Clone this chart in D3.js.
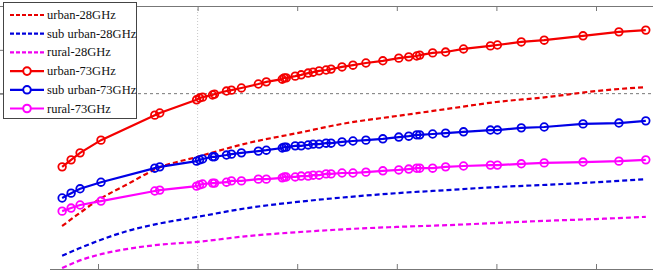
<!DOCTYPE html>
<html>
<head>
<meta charset="utf-8">
<script src="https://cdn.jsdelivr.net/npm/d3@7"></script>
<style>
  body { margin: 0; background: #fff; }
  svg { display: block; }
</style>
</head>
<body>
<svg id="chart"></svg>
<script>
// distances (m) where the 73 GHz curves are sampled (markers)
const distances73 = [64, 73, 82, 103, 157, 162, 199, 202, 205, 215, 217, 229, 234, 244, 261, 269,
  285, 287, 289, 298, 304, 311, 316, 322, 329, 334, 345, 356, 369, 386, 402, 412, 420, 423, 436,
  449, 467, 494, 501, 525, 548, 587, 623, 650];
const urban73 = [123.3, 124.9, 126.5, 129.4, 135.1, 135.6, 138.6, 139.0, 139.2, 139.7, 139.9, 140.6,
  140.8, 141.3, 142.2, 142.7, 143.3, 143.6, 143.6, 144.0, 144.3, 144.7, 144.9, 145.2, 145.4, 145.6,
  146.1, 146.5, 147.0, 147.5, 148.1, 148.4, 148.6, 148.8, 149.3, 149.5, 150.2, 150.9, 151.1, 151.8,
  152.2, 153.2, 154.1, 154.5];
const suburban73 = [116.2, 117.3, 118.3, 119.8, 123.0, 123.3, 124.6, 124.9, 125.1, 125.6, 125.6, 126.0,
  126.2, 126.5, 126.9, 127.1, 127.6, 127.8, 127.8, 128.1, 128.1, 128.3, 128.5, 128.5, 128.7, 128.7,
  129.0, 129.2, 129.4, 129.7, 130.1, 130.3, 130.6, 130.6, 130.8, 131.0, 131.3, 131.7, 131.7, 132.2,
  132.4, 133.1, 133.3, 133.8];
const rural73 = [113.2, 113.9, 114.6, 115.5, 117.8, 118.0, 118.9, 119.2, 119.4, 119.6, 119.6, 119.8,
  120.1, 120.1, 120.5, 120.5, 120.8, 121.0, 121.0, 121.0, 121.2, 121.2, 121.4, 121.4, 121.7, 121.7,
  121.9, 121.9, 122.1, 122.4, 122.6, 122.8, 123.0, 123.0, 123.0, 123.3, 123.5, 123.7, 123.7, 124.0,
  124.2, 124.4, 124.6, 124.9];

// 28 GHz curves (no markers)
const distances28 = [64, 80, 100, 130, 160, 200, 250, 300, 350, 400, 450, 500, 550, 600, 650];
const urban28 = [109.8, 112.5, 115.7, 119.4, 123.0, 125.6, 128.7, 131.0, 133.3, 134.9, 136.5, 138.1, 139.2, 140.6, 141.5];
const suburban28 = [103.0, 104.6, 106.4, 108.7, 110.3, 111.9, 113.9, 115.3, 116.4, 117.3, 118.0, 118.7, 119.2, 119.8, 120.5];
const rural28 = [100.2, 101.8, 103.2, 104.6, 105.5, 106.2, 107.5, 108.4, 109.1, 109.6, 110.0, 110.5, 111.0, 111.4, 111.9];

const seriesNames = ["urban-28GHz", "sub urban-28GHz", "rural-28GHz", "urban-73GHz", "sub urban-73GHz", "rural-73GHz"];
const seriesColors = ["#e80000", "#0000dc", "#f000f0", "#f40000", "#0000e6", "#ff00ff"];

const xTicks = [100, 200, 300, 400, 500, 600];
const yTicks = [140, 150];
// data cursor cross-hair
const cursorX = 200;
const cursorY = 140;

class PathLossChart {
  constructor(_config) {
    this.config = {
      parentElement: _config.parentElement,
      containerWidth: _config.containerWidth || 653,
      containerHeight: _config.containerHeight || 273,
    };
    this.initVis();
  }

  initVis() {
    let vis = this;

    vis.svg = d3.select(vis.config.parentElement)
      .attr("width", vis.config.containerWidth)
      .attr("height", vis.config.containerHeight);

    // axes box is cropped on the left / right of the figure
    vis.xScale = d3.scaleLinear().domain([0, 600]).range([-1.6, 596]);
    vis.yScale = d3.scaleLinear().domain([100, 160]).range([269, 6]);

    vis.chart = vis.svg.append("g");
  }

  updateVis() {
    let vis = this;

    vis.series = seriesNames.map((name, i) => {
      const is73 = i >= 3;
      const xs = is73 ? distances73 : distances28;
      const ys = [urban28, suburban28, rural28, urban73, suburban73, rural73][i];
      return {
        name: name,
        color: seriesColors[i],
        dashed: !is73,
        markers: is73,
        values: xs.map((d, j) => ({ x: d, y: ys[j] })),
      };
    });

    vis.renderVis();
  }

  renderVis() {
    let vis = this;
    const W = vis.config.containerWidth;

    // cross-hair lines
    vis.chart.append("line")
      .attr("x1", vis.xScale(cursorX)).attr("x2", vis.xScale(cursorX))
      .attr("y1", vis.yScale(160)).attr("y2", vis.yScale(100))
      .attr("stroke", "#c8c8c8").attr("stroke-width", 1)
      .attr("stroke-dasharray", "1,2");
    vis.chart.append("line")
      .attr("x1", 0).attr("x2", W)
      .attr("y1", vis.yScale(cursorY)).attr("y2", vis.yScale(cursorY))
      .attr("stroke", "#777").attr("stroke-width", 1)
      .attr("stroke-dasharray", "3,3");

    // axes (no labels survive the crop)
    const axisColor = "#777";
    const xAxisBottom = d3.axisBottom(vis.xScale).tickValues(xTicks).tickSizeInner(-5).tickSizeOuter(0).tickFormat("");
    const xAxisTop = d3.axisTop(vis.xScale).tickValues(xTicks).tickSizeInner(-5).tickSizeOuter(0).tickFormat("");
    const yAxisLeft = d3.axisLeft(vis.yScale).tickValues(yTicks).tickSizeInner(-5).tickSizeOuter(0).tickFormat("");

    [
      vis.chart.append("g").attr("transform", "translate(0,269)").call(xAxisBottom),
      vis.chart.append("g").attr("transform", "translate(0,6)").call(xAxisTop),
      vis.chart.append("g").attr("transform", "translate(-1.6,0)").call(yAxisLeft),
    ].forEach((g) => {
      g.select(".domain").remove();
      g.selectAll(".tick line").attr("stroke", axisColor);
    });

    vis.chart.append("line").attr("x1", 50).attr("x2", W).attr("y1", 269.5).attr("y2", 269.5)
      .attr("stroke", axisColor);
    vis.chart.append("line").attr("x1", 0).attr("x2", W).attr("y1", 6.5).attr("y2", 6.5)
      .attr("stroke", axisColor);

    const line = d3.line()
      .x((d) => vis.xScale(d.x))
      .y((d) => vis.yScale(d.y));
    const smoothLine = d3.line()
      .x((d) => vis.xScale(d.x))
      .y((d) => vis.yScale(d.y))
      .curve(d3.curveMonotoneX);

    const groups = vis.chart.selectAll(".series").data(vis.series).join("g").attr("class", "series");

    groups.append("path")
      .attr("d", (d) => (d.dashed ? smoothLine(d.values) : line(d.values)))
      .attr("fill", "none")
      .attr("stroke", (d) => d.color)
      .attr("stroke-width", 2.2)
      .attr("stroke-dasharray", (d) => (d.dashed ? "5,3" : null));

    groups.filter((d) => d.markers)
      .selectAll("circle")
      .data((d) => d.values.map((v) => ({ ...v, color: d.color })))
      .join("circle")
      .attr("cx", (d) => vis.xScale(d.x))
      .attr("cy", (d) => vis.yScale(d.y))
      .attr("r", 3.8)
      .attr("fill", "none")
      .attr("stroke", (d) => d.color)
      .attr("stroke-width", 1.8);

    // Legend
    const legend = vis.svg.append("g").attr("class", "legend").attr("transform", "translate(3,2)");
    legend.append("rect")
      .attr("x", 0.5).attr("y", 0.5)
      .attr("width", 133).attr("height", 116)
      .attr("fill", "#fff").attr("stroke", "#444");

    const items = legend.selectAll(".item").data(vis.series).join("g")
      .attr("class", "item")
      .attr("transform", (d, i) => `translate(0,${13 + i * 18.7})`);

    items.append("line")
      .attr("x1", 7).attr("x2", 41).attr("y1", 0).attr("y2", 0)
      .attr("stroke", (d) => d.color)
      .attr("stroke-width", 2.2)
      .attr("stroke-dasharray", (d) => (d.dashed ? "4,2" : null));
    items.filter((d) => d.markers).append("circle")
      .attr("cx", 24).attr("cy", 0).attr("r", 3.8)
      .attr("fill", "#fff")
      .attr("stroke", (d) => d.color)
      .attr("stroke-width", 2);
    items.append("text")
      .attr("x", 44).attr("y", 4)
      .attr("font-family", "'Liberation Serif', 'DejaVu Serif', 'Times New Roman', serif")
      .attr("font-size", "12.5px")
      .attr("fill", "#111")
      .text((d) => d.name);
  }
}

const chart = new PathLossChart({ parentElement: "#chart" });
chart.updateVis();
</script>
</body>
</html>
